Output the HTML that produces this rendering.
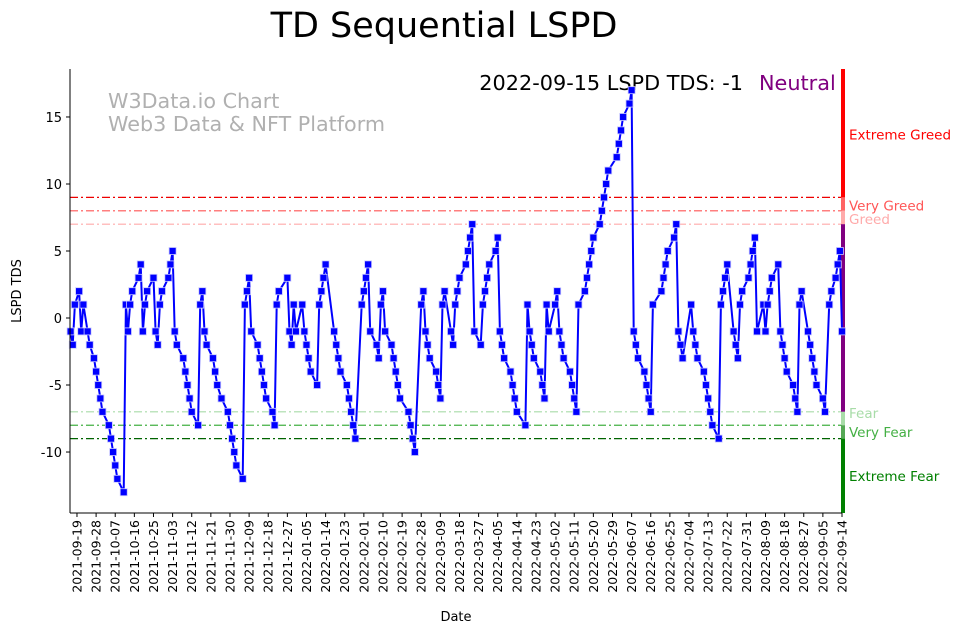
<!DOCTYPE html>
<html><head><meta charset="utf-8"><style>
body{margin:0;background:#fff;font-family:"Liberation Sans","DejaVu Sans",sans-serif}
svg text{font-family:"DejaVu Sans","Liberation Sans",sans-serif}
</style></head><body>
<svg id="chart" width="962" height="633" viewBox="0 0 962 633" xmlns="http://www.w3.org/2000/svg">
<text x="444" y="37" font-size="35" text-anchor="middle" fill="#000">TD Sequential LSPD</text>
<text x="108" y="108" font-size="20.7" fill="#b0b0b0">W3Data.io Chart</text>
<text x="108" y="131" font-size="20.7" fill="#b0b0b0">Web3 Data &amp; NFT Platform</text>
<text x="743" y="90" font-size="20.8" text-anchor="end" fill="#000">2022-09-15 LSPD TDS: -1</text>
<text x="759" y="90" font-size="20.8" fill="#800080">Neutral</text>
<g id="grid"></g>
<g id="bar"></g>
<g id="series"></g>
<g id="axes"></g>
<text transform="translate(21,291) rotate(-90)" font-size="13" text-anchor="middle">LSPD TDS</text>
<text x="456" y="621" font-size="13" text-anchor="middle">Date</text>
</svg>
<script>
const days=[0,1,2,4,5,6,8,9,11,12,13,14,15,18,19,20,21,22,25,26,27,28,29,32,33,34,35,36,39,40,41,42,43,46,47,48,49,50,53,54,55,56,57,60,61,62,63,64,67,68,69,71,74,75,76,77,78,81,82,83,84,85,88,89,90,91,92,95,96,97,98,102,103,104,105,106,109,110,111,112,113,116,117,118,119,120,124,125,126,127,130,131,132,133,134,137,138,139,140,141,144,145,146,147,148,151,152,153,154,155,159,160,161,162,165,166,167,168,169,172,173,174,175,176,179,180,181,182,183,186,187,188,189,190,193,194,195,196,197,200,201,202,203,204,207,208,209,210,214,215,216,217,218,221,222,223,224,225,228,229,230,231,232,235,236,237,238,239,242,243,244,245,246,249,250,251,252,253,257,258,259,260,263,264,265,266,267,270,271,272,273,274,278,279,280,281,284,285,286,287,288,292,293,294,295,298,299,300,301,302,305,306,307,308,309,312,313,314,315,316,319,320,321,322,323,326,327,328,329,330,333,334,335,336,337,340,341,342,343,344,347,348,349,350,351,354,355,357,358,360,361,362,363];
const values=[-1,-2,1,2,-1,1,-1,-2,-3,-4,-5,-6,-7,-8,-9,-10,-11,-12,-13,1,-1,1,2,3,4,-1,1,2,3,-1,-2,1,2,3,4,5,-1,-2,-3,-4,-5,-6,-7,-8,1,2,-1,-2,-3,-4,-5,-6,-7,-8,-9,-10,-11,-12,1,2,3,-1,-2,-3,-4,-5,-6,-7,-8,1,2,3,-1,-2,1,-1,1,-1,-2,-3,-4,-5,1,2,3,4,-1,-2,-3,-4,-5,-6,-7,-8,-9,1,2,3,4,-1,-2,-3,1,2,-1,-2,-3,-4,-5,-6,-7,-8,-9,-10,1,2,-1,-2,-3,-4,-5,-6,1,2,-1,-2,1,2,3,4,5,6,7,-1,-2,1,2,3,4,5,6,-1,-2,-3,-4,-5,-6,-7,-8,1,-1,-2,-3,-4,-5,-6,1,-1,1,2,-1,-2,-3,-4,-5,-6,-7,1,2,3,4,5,6,7,8,9,10,11,12,13,14,15,16,17,-1,-2,-3,-4,-5,-6,-7,1,2,3,4,5,6,7,-1,-2,-3,1,-1,-2,-3,-4,-5,-6,-7,-8,-9,1,2,3,4,-1,-2,-3,1,2,3,4,5,6,-1,1,-1,1,2,3,4,-1,-2,-3,-4,-5,-6,-7,1,2,-1,-2,-3,-4,-5,-6,-7,1,2,3,4,5,-1];
const yTicks=[15,10,5,0,-5,-10];
const thresholds=[9,8,7,-7,-8,-9];
const thresholdColors=["#ee0000","#ff5555","#ffaaaa","#a8dca8","#44b044","#006400"];
const labelColors=["#ff0000","#ff5555","#ffaaaa","#a8dca8","#44b044","#008000"];
const zoneLabels=["Extreme Greed","Very Greed","Greed","Fear","Very Fear","Extreme Fear"];
const zoneLabelValues=[13.7,8.4,7.4,-7.1,-8.5,-11.8];
const startDate="2021-09-16";
const tickStartDay=3, tickStep=9;

const NS="http://www.w3.org/2000/svg";
const L=70,R=842,T=69,B=513;
const xMin=-0.3,xMax=363,yMin=-14.55,yMax=18.58;
const X=d=>70.6+(d)*((R-70.6)/xMax);
const Y=v=>B-(v-yMin)/(yMax-yMin)*(B-T);
function mk(tag,attrs,parent){const e=document.createElementNS(NS,tag);for(const k in attrs)e.setAttribute(k,attrs[k]);parent.appendChild(e);return e;}
const grid=document.getElementById('grid'),bar=document.getElementById('bar'),series=document.getElementById('series'),axes=document.getElementById('axes');

thresholds.forEach((t,i)=>{
  const ln=mk('line',{x1:L,x2:R,y1:Y(t),y2:Y(t),stroke:thresholdColors[i],'stroke-width':1.2,'stroke-dasharray':'8,3,2,3'},grid);
  
  
  const tx=mk('text',{x:849,y:Y(zoneLabelValues[i])+5,'font-size':13.5,fill:labelColors[i]},grid);
  tx.textContent=zoneLabels[i];
  
  
});
const bands=[[yMax,9,"#ff0000"],[9,8,"#ff6464"],[8,7,"#ffaaaa"],[7,-7,"#800080"],[-7,-8,"#a8dca8"],[-8,-9,"#55a855"],[-9,yMin,"#008000"]];
bands.forEach(b=>{
  const r=mk('rect',{x:841,y:Y(b[0]),width:4,height:Y(b[1])-Y(b[0]),fill:b[2]},bar);
  
  
});

const pts=days.map((d,i)=>X(d).toFixed(1)+','+Y(values[i]).toFixed(1)).join(' ');
const pl=mk('polyline',{points:pts,fill:'none',stroke:'#0000ff','stroke-width':2,'stroke-linejoin':'round'},series);


days.forEach((d,i)=>{
  const m=mk('rect',{x:X(d)-3.5,y:Y(values[i])-3.5,width:7,height:7,fill:'#0000ff',stroke:'#c8c8ff','stroke-width':0.8},series);
  
  
});

mk('line',{x1:L,x2:L,y1:T,y2:B,stroke:'#000','stroke-width':1},axes);
mk('line',{x1:L,x2:R,y1:B,y2:B,stroke:'#000','stroke-width':1},axes);
yTicks.forEach(v=>{
  mk('line',{x1:L-4,x2:L,y1:Y(v),y2:Y(v),stroke:'#000'},axes);
  const t=mk('text',{x:L-8,y:Y(v)+5,'font-size':13,'text-anchor':'end'},axes);
  t.textContent=v;
  
  
});
const s0=new Date(startDate+"T00:00:00Z");
for(let d=tickStartDay;d<=xMax;d+=tickStep){
  const x=X(d);
  mk('line',{x1:x,x2:x,y1:B,y2:B+4,stroke:'#000'},axes);
  const dt=new Date(s0.getTime()+d*86400000);
  const t=mk('text',{transform:`translate(${x+4.5},${B+7}) rotate(-90)`,'font-size':12.5,'text-anchor':'end'},axes);
  t.textContent=dt.toISOString().slice(0,10);
  
  
}
</script>
</body></html>
